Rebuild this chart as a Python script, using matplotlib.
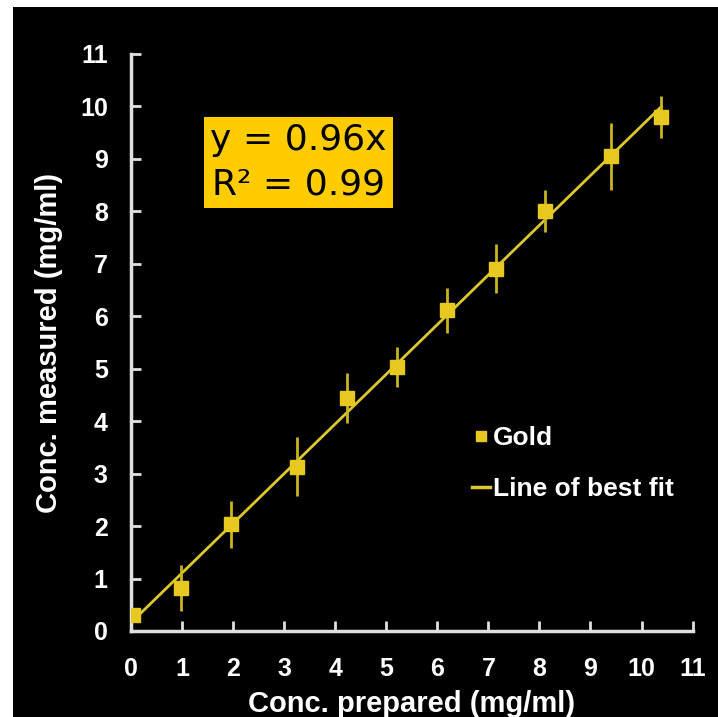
import numpy as np
import matplotlib
matplotlib.use("Agg")
import matplotlib.pyplot as plt
from matplotlib.patches import Rectangle
from matplotlib.lines import Line2D

# Data
conc_prepared = [0.03, 0.98, 1.96, 3.25, 4.22, 5.20, 6.18, 7.14, 8.10, 9.40, 10.39]
conc_measured = [0.30, 0.82, 2.03, 3.13, 4.44, 5.03, 6.11, 6.91, 8.00, 9.05, 9.80]
err_measured = [0.10, 0.43, 0.45, 0.56, 0.47, 0.38, 0.42, 0.47, 0.40, 0.64, 0.40]
ticks = list(range(0, 12))
equation_text = "y = 0.96x\nR\u00b2 = 0.99"

plt.rcParams['font.family'] = ['Liberation Sans', 'DejaVu Sans']

fig = plt.figure(figsize=(7.18, 7.17), dpi=100, facecolor='white')
bg = Rectangle((13/718, 0), 1 - 13/718, 1 - 7/717,
               transform=fig.transFigure, facecolor='black',
               edgecolor='none', zorder=-10)
fig.patches.append(bg)

ax = fig.add_axes([0.183, 0.12, 0.7815, 0.8047])
ax.set_zorder(5)
ax.set_facecolor('black')

gold = '#E6C81E'
line_col = '#DCC82C'

x = np.array(conc_prepared)
y = np.array(conc_measured)
coef = np.polyfit(x, y, 1)
xf = np.array([0, x.max()])
ax.plot(xf, np.polyval(coef, xf), color=line_col, lw=2, zorder=2)
ax.errorbar(x, y, yerr=err_measured, fmt='s', color=gold, ms=10, ecolor='#C9B420',
            elinewidth=2, capsize=0, zorder=3)

ax.set_xlim(0, 11)
ax.set_ylim(0, 11)
ax.set_xticks(ticks)
ax.set_yticks(ticks)
ax.set_xticklabels([str(t) for t in ticks])
ax.set_yticklabels([str(t) for t in ticks])
for s in ['top', 'right']:
    ax.spines[s].set_visible(False)
for s in ['left', 'bottom']:
    ax.spines[s].set_color('#E0E0E0')
    ax.spines[s].set_linewidth(2.5)
ax.tick_params(direction='in', length=7, width=2, color='#E0E0E0',
               labelcolor='white', labelsize=18)
ax.tick_params(axis='x', pad=19)
ax.tick_params(axis='y', pad=17)
for lab in ax.get_xticklabels() + ax.get_yticklabels():
    lab.set_fontweight('bold')

ax.set_xlabel('Conc. prepared (mg/ml)', color='white', fontsize=21, fontweight='bold', labelpad=6)
ax.set_ylabel('Conc. measured (mg/ml)', color='white', fontsize=21, fontweight='bold', labelpad=12)

ax.text(3.28, 8.93, equation_text, fontsize=26, color='black', ha='center', va='center',
        linespacing=1.4, family='DejaVu Sans',
        bbox=dict(boxstyle='square,pad=0.17', facecolor='#FFCC00', edgecolor='none'))

h_gold = Line2D([], [], ls='none', marker='s', ms=7, color=gold)
h_fit = Line2D([], [], color=line_col, lw=2.5)
leg = ax.legend([h_gold, h_fit], ['Gold', 'Line of best fit'],
                loc='center left', bbox_to_anchor=(0.607, 0.29), frameon=False,
                borderpad=0, borderaxespad=0,
                handlelength=0.7, handletextpad=0.1, labelspacing=1.0,
                prop={'size': 19, 'weight': 'bold'})
for t in leg.get_texts():
    t.set_color('white')

fig.savefig('out.png', dpi=100, facecolor=fig.get_facecolor())
